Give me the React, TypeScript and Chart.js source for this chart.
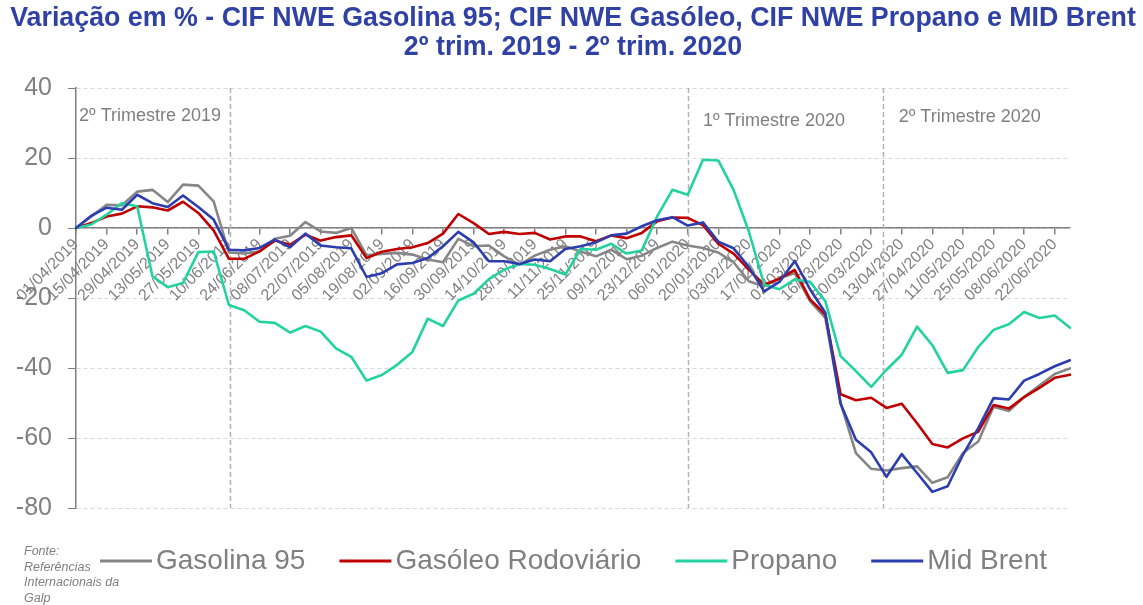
import React, { useEffect, useRef } from 'react';
import { Chart, registerables } from 'chart.js';

Chart.register(...registerables);

const FONT = '"Liberation Sans", Arial, Helvetica, sans-serif';

const titleLines = [
  'Variação em % - CIF NWE Gasolina 95; CIF NWE Gasóleo, CIF NWE Propano e MID Brent',
  '2º trim. 2019 - 2º trim. 2020',
];

const weeks = [
  '01/04/2019', '08/04/2019', '15/04/2019', '22/04/2019', '29/04/2019', '06/05/2019', '13/05/2019', '20/05/2019',
  '27/05/2019', '03/06/2019', '10/06/2019', '17/06/2019', '24/06/2019', '01/07/2019', '08/07/2019', '15/07/2019',
  '22/07/2019', '29/07/2019', '05/08/2019', '12/08/2019', '19/08/2019', '26/08/2019', '02/09/2019', '09/09/2019',
  '16/09/2019', '23/09/2019', '30/09/2019', '07/10/2019', '14/10/2019', '21/10/2019', '28/10/2019', '04/11/2019',
  '11/11/2019', '18/11/2019', '25/11/2019', '02/12/2019', '09/12/2019', '16/12/2019', '23/12/2019', '30/12/2019',
  '06/01/2020', '13/01/2020', '20/01/2020', '27/01/2020', '03/02/2020', '10/02/2020', '17/02/2020', '24/02/2020',
  '02/03/2020', '09/03/2020', '16/03/2020', '23/03/2020', '30/03/2020', '06/04/2020', '13/04/2020', '20/04/2020',
  '27/04/2020', '04/05/2020', '11/05/2020', '18/05/2020', '25/05/2020', '01/06/2020', '08/06/2020', '15/06/2020',
  '22/06/2020', '29/06/2020',
];

const gasolina95 = [
  0, 3.3, 6.6, 6.5, 10.4, 10.9, 7.4, 12.4, 12.1, 7.6,
  -7.0, -7.3, -6.7, -3.1, -2.2, 1.7, -1.0, -1.4, 0, -7.8,
  -7.4, -7.1, -7.6, -9.0, -9.8, -3.1, -5.2, -5.0, -8.1, -10.5,
  -7.9, -6.2, -5.2, -6.7, -8.1, -6.2, -8.9, -7.9, -5.7, -3.9,
  -5.0, -5.7, -7.0, -9.8, -15.2, -16.7, -14.3, -12.9, -20.9, -25.7,
  -50.0, -64.3, -68.8, -69.3, -68.6, -68.1, -72.8, -71.2, -64.3, -61.0,
  -51.1, -52.3, -48.3, -45.0, -41.7, -40.1,
];

const gasoleoRodoviario = [
  0, 1.4, 3.3, 4.1, 6.2, 5.9, 5.0, 7.5, 4.3, -0.7,
  -8.8, -8.8, -6.7, -3.6, -4.8, -1.9, -3.6, -2.6, -2.1, -8.6,
  -6.8, -6.0, -5.5, -4.3, -1.6, 4.0, 1.4, -1.7, -1.1, -1.7,
  -1.4, -3.3, -2.4, -2.4, -3.8, -2.1, -2.9, -1.4, 1.9, 3.0,
  2.9, 0.8, -4.5, -7.3, -11.9, -16.2, -14.5, -12.0, -20.4, -24.7,
  -47.5, -49.2, -48.5, -51.4, -50.2, -55.8, -61.7, -62.7, -60.1, -58.2,
  -50.6, -51.6, -48.3, -45.7, -42.8, -41.9,
];

const propano = [
  0, 1.0, 3.8, 7.1, 6.2, -13.8, -16.9, -15.7, -6.9, -6.7,
  -22.0, -23.5, -26.8, -27.1, -29.9, -28.0, -29.6, -34.4, -36.8, -43.6,
  -42.0, -39.1, -35.4, -25.9, -28.0, -20.7, -18.8, -14.6, -11.9, -10.3,
  -10.5, -11.7, -13.3, -6.0, -6.2, -4.5, -7.3, -6.4, 3.3, 10.9,
  9.5, 19.5, 19.3, 10.9, -1.0, -16.2, -17.5, -14.7, -15.4, -20.9,
  -36.6, -40.9, -45.4, -40.5, -36.2, -28.2, -33.5, -41.4, -40.6, -34.0,
  -29.1, -27.5, -24.0, -25.7, -25.0, -28.5,
];

const midBrent = [
  0, 3.5, 5.8, 5.2, 9.5, 7.1, 6.0, 9.3, 6.0, 2.4,
  -6.2, -6.4, -5.7, -3.3, -5.5, -1.6, -5.0, -5.5, -5.8, -14.0,
  -12.9, -10.4, -10.0, -8.6, -5.2, -1.1, -4.1, -9.5, -9.5, -10.3,
  -9.0, -9.5, -6.0, -5.2, -4.1, -2.1, -1.6, 0.5, 2.2, 3.1,
  0.7, 1.6, -3.9, -5.8, -11.1, -18.1, -15.4, -9.4, -17.5, -24.2,
  -50.2, -60.5, -64.1, -71.1, -64.6, -70.0, -75.4, -73.8, -64.8, -57.2,
  -48.6, -49.0, -43.6, -41.7, -39.5, -37.8,
];

const seriesNames = ['Gasolina 95', 'Gasóleo Rodoviário', 'Propano', 'Mid Brent'];
const seriesValues = [gasolina95, gasoleoRodoviario, propano, midBrent];
const seriesColors = ['#868686', '#C00000', '#22D3A0', '#2C3DAF'];

const yMin = -80;
const yMax = 40;
const yStep = 20;

// quarter separators (in category-index units) and their captions
const quarterDividers = [10.05, 40.0, 52.8];
const quarterCaptions = ['2º Trimestre 2019', '1º Trimestre 2020', '2º Trimestre 2020'];
const captionAnchors = [
  { x: 0.2, y: 30.6 },
  { x: 41.0, y: 29.1 },
  { x: 53.8, y: 30.4 },
];

const sourceLines = ['Fonte:', 'Referências', 'Internacionais da', 'Galp'];

function indexToPixel(scale: any, v: number) {
  const i = Math.floor(v);
  const f = v - i;
  const a = scale.getPixelForValue(i);
  const b = scale.getPixelForValue(i + 1);
  return a + (b - a) * f;
}

const quarterPlugin = {
  id: 'quarterPlugin',
  beforeDatasetsDraw(chart: any) {
    const { ctx, chartArea, scales } = chart;
    const x = scales.x;
    const y = scales.y;
    ctx.save();
    ctx.strokeStyle = '#b3b3b3';
    ctx.lineWidth = 1.5;
    ctx.setLineDash([5, 3]);
    for (const d of quarterDividers) {
      const px = Math.round(indexToPixel(x, d)) + 0.5;
      ctx.beginPath();
      ctx.moveTo(px, chartArea.top);
      ctx.lineTo(px, chartArea.bottom);
      ctx.stroke();
    }
    ctx.setLineDash([]);
    ctx.fillStyle = '#7f7f7f';
    ctx.font = `18px ${FONT}`;
    ctx.textAlign = 'left';
    ctx.textBaseline = 'alphabetic';
    quarterCaptions.forEach((t, k) => {
      const a = captionAnchors[k];
      ctx.fillText(t, indexToPixel(x, a.x), y.getPixelForValue(a.y));
    });
    ctx.restore();
  },
};

const textPlugin = {
  id: 'textPlugin',
  afterDraw(chart: any) {
    const { ctx } = chart;
    ctx.save();
    // title
    ctx.fillStyle = '#3041A5';
    ctx.font = `bold 26.8px ${FONT}`;
    ctx.textAlign = 'center';
    ctx.textBaseline = 'middle';
    titleLines.forEach((t, k) => ctx.fillText(t, 573, 18.5 + k * 29));
    // source note
    ctx.fillStyle = '#808080';
    ctx.font = `italic 12.5px ${FONT}`;
    ctx.textAlign = 'left';
    sourceLines.forEach((t, k) => ctx.fillText(t, 24, 552 + k * 15.5));
    // legend
    const yMid = 561;
    let xPos = 100;
    ctx.font = `28px ${FONT}`;
    chart.data.datasets.forEach((ds: any) => {
      ctx.strokeStyle = ds.borderColor;
      ctx.lineWidth = 3;
      ctx.beginPath();
      ctx.moveTo(xPos, yMid);
      ctx.lineTo(xPos + 52, yMid);
      ctx.stroke();
      ctx.fillStyle = '#808080';
      ctx.fillText(ds.label, xPos + 56, yMid);
      xPos += 56 + ctx.measureText(ds.label).width + 34;
    });
    ctx.restore();
  },
};

export default function App() {
  const canvasRef = useRef<HTMLCanvasElement | null>(null);

  useEffect(() => {
    if (!canvasRef.current) return;
    Chart.defaults.font.family = FONT;
    const chart = new Chart(canvasRef.current, {
      type: 'line',
      data: {
        labels: weeks,
        datasets: seriesNames.map((name, k) => ({
          label: name,
          data: seriesValues[k],
          borderColor: seriesColors[k],
          backgroundColor: seriesColors[k],
          borderWidth: 2.6,
          pointRadius: 0,
          pointHoverRadius: 0,
          tension: 0,
          fill: false,
          borderJoinStyle: 'round' as const,
          borderCapStyle: 'round' as const,
          order: 3 - k,
        })),
      },
      options: {
        responsive: false,
        animation: false,
        devicePixelRatio: 1,
        layout: { padding: { top: 88, left: 0, right: 73, bottom: 97 } },
        plugins: {
          legend: { display: false },
          tooltip: { enabled: false },
          title: { display: false },
        },
        scales: {
          x: {
            type: 'category',
            position: { y: 0 } as any,
            offset: false,
            ticks: {
              autoSkip: false,
              minRotation: 45,
              maxRotation: 45,
              color: '#808080',
              font: { size: 16, family: FONT },
              padding: 1,
              callback: (_v: any, i: number) => (i % 2 === 0 ? weeks[i] : ''),
            },
            grid: {
              drawOnChartArea: false,
              drawTicks: true,
              tickLength: 6,
              lineWidth: 1.5,
              tickColor: (c: any) => (c.index % 2 === 0 ? '#808080' : 'rgba(0,0,0,0)'),
            },
            border: { display: true, color: '#808080', width: 1.5 },
          },
          y: {
            min: yMin,
            max: yMax,
            ticks: {
              stepSize: yStep,
              color: '#808080',
              font: { size: 25, family: FONT },
              padding: 16,
            },
            grid: {
              color: '#d9d9d9',
              lineWidth: 1,
              tickLength: 8,
              tickColor: '#808080',
            },
            border: { display: true, color: '#808080', width: 1.5, dash: [4, 3] },
            afterFit: (s: any) => {
              s.width = 76;
            },
          },
        },
      },
      plugins: [quarterPlugin, textPlugin],
    } as any);
    return () => chart.destroy();
  }, []);

  return (
    <div style={{ position: 'absolute', left: 0, top: 0, width: 1143, height: 605, background: '#fff' }}>
      <canvas ref={canvasRef} width={1143} height={605} style={{ display: 'block' }} />
    </div>
  );
}
